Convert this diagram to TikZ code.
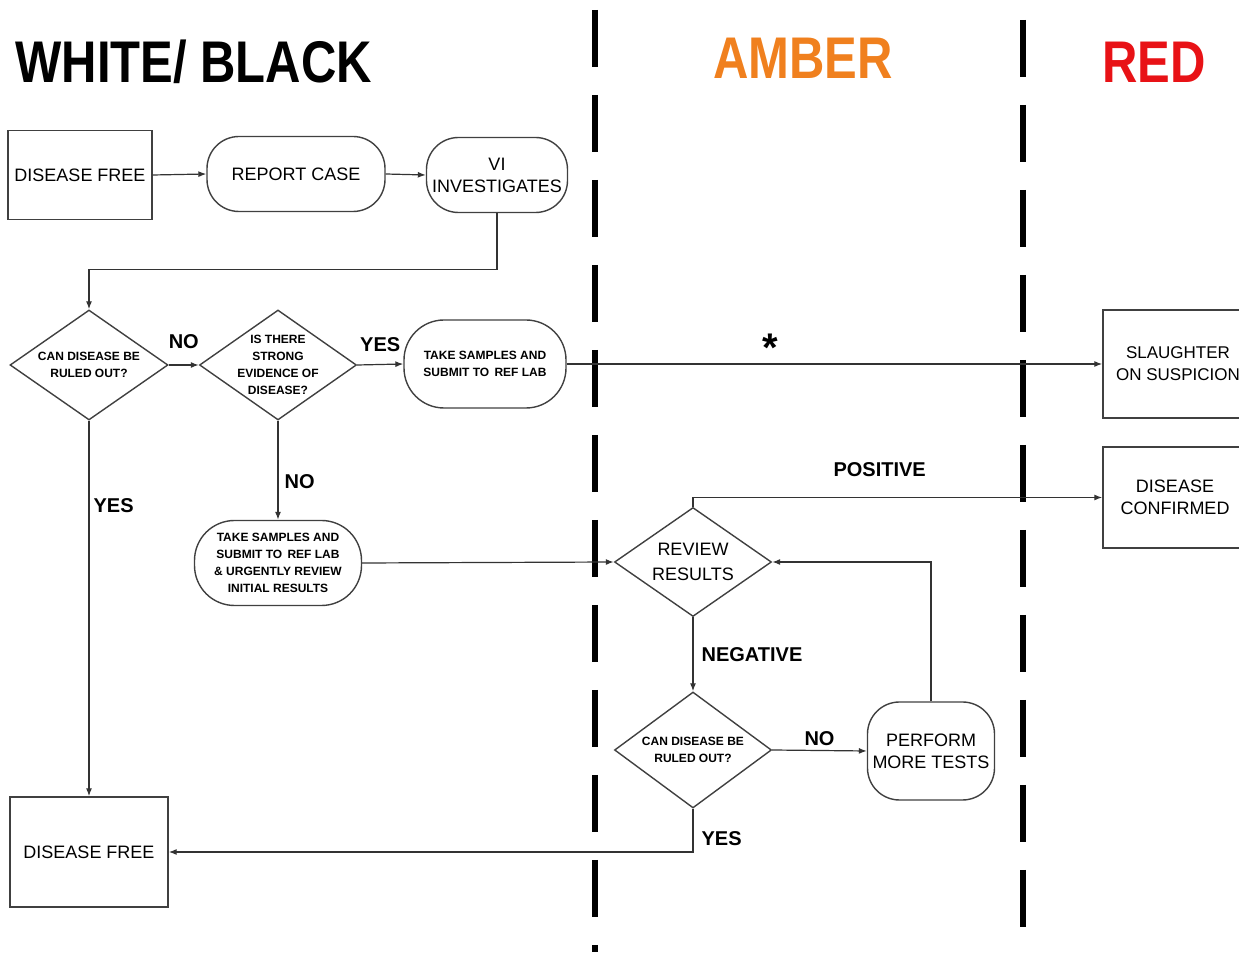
\documentclass[tikz,border=0pt]{standalone}
\usepackage{fontspec}
\setmainfont{Liberation Sans}
\usepackage{tikz}
\usetikzlibrary{positioning,arrows.meta,shapes.geometric}
\definecolor{amberorange}{RGB}{240,128,30}
\definecolor{redzone}{RGB}{232,18,22}
\newcommand{\tallword}[1]{\scalebox{1}[1.2]{#1}}
\tikzset{
  box/.style={rectangle, draw=black!75, line width=0.7pt, font=\fontsize{9}{11}\selectfont, align=center, inner sep=1pt},
  roundbox/.style={box, rounded corners=16pt},
  decision/.style={diamond, draw=black!75, line width=0.7pt, inner sep=0pt},
  dlabel/.style={font=\fontsize{6}{8.5}\selectfont\bfseries, align=center, inner sep=0pt},
  small/.style={font=\fontsize{6}{8.5}\selectfont\bfseries},
  title/.style={font=\fontsize{24.5}{28}\selectfont\bfseries, inner sep=0pt},
  tag/.style={font=\fontsize{10}{12}\selectfont\bfseries, inner sep=1pt},
  fwd/.style={-{Latex[length=4pt,width=3pt]}, line width=0.6pt, draw=black!80},
  divider/.style={line width=2.6pt, dash pattern=on 28.5pt off 14pt},
}
\begin{document}
\begin{tikzpicture}[x=0.5pt,y=-0.5pt]
\useasboundingbox (0,0) rectangle (1239,956);
%Zones
\node[title, anchor=west] (tblack) at (15,62) {\tallword{WHITE/ BLACK}};
\node[title, text=amberorange] (tamber) at (803,58) {\tallword{AMBER}};
\node[title, text=redzone] (tred) at (1154,62) {\tallword{RED}};
\draw[divider] (595,10) -- (595,952);
\draw[divider] (1023,20) -- (1023,927);

%Nodes
\node[box, minimum width=72pt, minimum height=44.5pt] (free1) at (80,175) {DISEASE FREE};
\node[roundbox, minimum width=89pt, minimum height=37.5pt] (report) at (296,174) {REPORT CASE};
\node[roundbox, minimum width=70.5pt, minimum height=37.5pt] (vi) at (497,175) {VI\\INVESTIGATES};
\node[decision, minimum width=79pt, minimum height=55pt,
      label={[dlabel]center:{CAN DISEASE BE\\RULED OUT?}}] (rule1) at (89,365) {};
\node[decision, minimum width=78.5pt, minimum height=55pt,
      label={[dlabel]center:{IS THERE\\STRONG\\EVIDENCE OF\\DISEASE?}}] (strong) at (278,365) {};
\node[roundbox, small, rounded corners=20pt, minimum width=81pt, minimum height=44pt] (take1) at (485,364) {TAKE SAMPLES AND\\SUBMIT TO\, REF LAB};
\node[box, font=\fontsize{8.5}{11}\selectfont, minimum width=75pt, minimum height=54pt] (slaughter) at (1178,364) {SLAUGHTER\\ON SUSPICION};
\node[box, minimum width=72pt, minimum height=50.5pt] (confirmed) at (1175,497.5) {DISEASE\\CONFIRMED};
\node[roundbox, small, rounded corners=20pt, minimum width=83.5pt, minimum height=42.5pt] (take2) at (278,563) {TAKE SAMPLES AND\\SUBMIT TO\, REF LAB\\\& URGENTLY REVIEW\\INITIAL RESULTS};
\node[decision, minimum width=78.5pt, minimum height=54.5pt,
      label={[dlabel, font=\fontsize{9}{12.5}\selectfont]center:{REVIEW\\RESULTS}}] (review) at (693,562) {};
\node[decision, minimum width=78.5pt, minimum height=58pt,
      label={[dlabel]center:{CAN DISEASE BE\\RULED OUT?}}] (rule2) at (693,750) {};
\node[roundbox, minimum width=63.5pt, minimum height=49pt] (perform) at (931,751) {PERFORM\\MORE TESTS};
\node[box, minimum width=79pt, minimum height=55pt] (free2) at (89,852) {DISEASE FREE};

%Lines
\draw[fwd] (free1.east) -- (report.west);
\draw[fwd] (report.east) -- (vi.west);
\draw[fwd] (vi.south) -- ++(0,56) -| (rule1.north);
\draw[fwd] (rule1.east) -- (strong.west) node[tag, midway, above=7pt] {NO};
\draw[fwd] (strong.east) -- (take1.west) node[tag, midway, above=5pt] {YES};
\draw[fwd] (take1.east) -- (slaughter.west) node[pos=0.38, above=1pt, font=\fontsize{20}{20}\selectfont\bfseries, inner sep=0pt] {*};
\draw[fwd] (rule1.south) -- (free2.north) node[tag, pos=0.225, right=1pt] {YES};
\draw[fwd] (strong.south) -- (take2.north) node[tag, pos=0.61, right=2pt] {NO};
\draw[fwd] (take2.east) -- (review.west);
\draw[fwd] (review.north) |- (confirmed.west) node[tag, pos=0.728, above=9pt] {POSITIVE};
\draw[fwd] (review.south) -- (rule2.north) node[tag, midway, right=3pt] {NEGATIVE};
\draw[fwd] (rule2.east) -- (perform.west) node[tag, midway, above=1pt] {NO};
\draw[fwd] (perform.north) |- (review.east);
\draw[fwd] (rule2.south) |- (free2.east) node[tag, pos=0.34, right=3pt] {YES};
\end{tikzpicture}
\end{document}
